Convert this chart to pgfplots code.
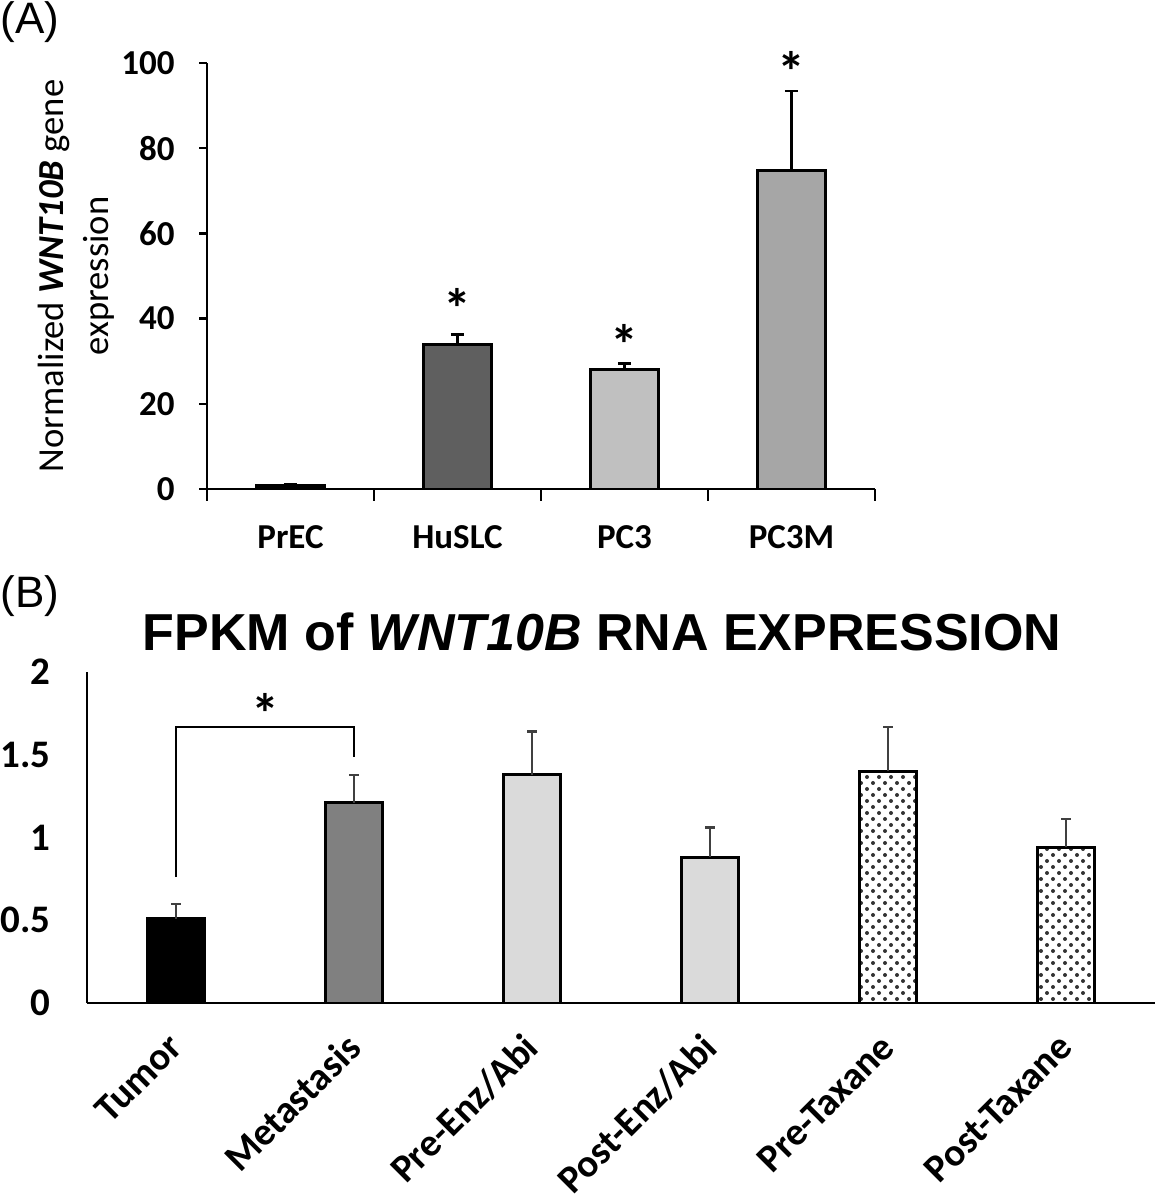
\documentclass[border=0pt]{standalone}
\usepackage{pgfplots}
\pgfplotsset{compat=1.18}
\usepackage{fontspec}
\setmainfont{Carlito}
\newfontfamily\arial{Liberation Sans}
\usetikzlibrary{patterns}
\definecolor{dgray}{HTML}{5F5F5F}
\definecolor{lgray}{HTML}{C0C0C0}
\definecolor{mgray}{HTML}{A6A6A6}
\definecolor{bgray}{HTML}{808080}
\definecolor{pgray}{HTML}{DADADA}
\pgfdeclarepatternformonly{mydots}{\pgfqpoint{-0.5pt}{-0.5pt}}{\pgfqpoint{6.5pt}{6.5pt}}{\pgfqpoint{6pt}{6pt}}{%
  \pgfpathcircle{\pgfqpoint{1.5pt}{1.5pt}}{1.0pt}%
  \pgfpathcircle{\pgfqpoint{4.5pt}{4.5pt}}{1.0pt}%
  \pgfusepath{fill}}
\begin{document}
\begin{tikzpicture}
\useasboundingbox (0pt,0pt) rectangle (578.5pt,600pt);
% panel labels
\node[anchor=west, inner sep=0pt] at (0pt,589pt) {\arial\fontsize{22}{26}\selectfont (A)};
\node[anchor=west, inner sep=0pt] at (0pt,302pt) {\arial\fontsize{22}{26}\selectfont (B)};
% ===== Panel A =====
\begin{axis}[
  at={(103.5pt,355.5pt)}, anchor=south west,
  width=334pt, height=213pt, scale only axis,
  xmin=-0.5, xmax=3.5, ymin=0, ymax=100,
  axis x line*=bottom, axis y line*=left,
  axis line style={line width=1.4pt, -},
  xtick={0,1,2,3}, xticklabels={PrEC,HuSLC,PC3,PC3M},
  minor xtick={-0.5,0.5,1.5,2.5,3.5},
  ytick={0,20,40,60,80,100}, yticklabels={0,20,40,60,80,100},
  tick align=outside, major tick length=4pt, minor tick length=6pt,
  major x tick style={draw=none},
  tick style={black, line width=1.2pt},
  ticklabel style={font=\bfseries\fontsize{17.5}{20}\selectfont},
  xticklabel style={anchor=north, inner sep=0pt, yshift=-14pt},
  yticklabel style={anchor=east, inner sep=0pt, xshift=-12pt},
  error bars/error bar style={black, line width=1.2pt},
  error bars/error mark options={black, line width=1.2pt, mark size=3.3pt, rotate=90},
  clip=false,
]
\addplot[ybar, bar width=34pt, bar shift=0pt, fill=black, draw=black, line width=1.4pt,
  error bars/.cd, y dir=plus, y explicit]
  coordinates {(0,0.9) +- (0,0.3)};
\addplot[ybar, bar width=34pt, bar shift=0pt, fill=dgray, draw=black, line width=1.4pt,
  error bars/.cd, y dir=plus, y explicit]
  coordinates {(1,34.0) +- (0,2.3)};
\addplot[ybar, bar width=34pt, bar shift=0pt, fill=lgray, draw=black, line width=1.4pt,
  error bars/.cd, y dir=plus, y explicit]
  coordinates {(2,28.1) +- (0,1.4)};
\addplot[ybar, bar width=34pt, bar shift=0pt, fill=mgray, draw=black, line width=1.4pt,
  error bars/.cd, y dir=plus, y explicit]
  coordinates {(3,74.8) +- (0,18.6)};
\node[font=\bfseries\fontsize{28}{28}\selectfont] at (axis cs:1,42.3) {*};
\node[font=\bfseries\fontsize{28}{28}\selectfont] at (axis cs:2,34.0) {*};
\node[font=\bfseries\fontsize{28}{28}\selectfont] at (axis cs:3,98) {*};
\end{axis}
\node[rotate=90, align=center, font=\fontsize{18.3}{22.5}\selectfont] at (38pt,462pt)
  {Normalized \textbf{\textit{WNT10B}} gene\\expression};
% ===== Panel B =====
\node at (301pt,284pt) {\arial\bfseries\fontsize{26}{30}\selectfont FPKM of \textit{WNT10B} RNA EXPRESSION};
\begin{axis}[
  at={(43.5pt,98.5pt)}, anchor=south west,
  width=534pt, height=165.5pt, scale only axis,
  xmin=-0.5, xmax=5.5, ymin=0, ymax=2,
  axis x line*=bottom, axis y line*=left,
  axis line style={line width=1.4pt, -},
  xtick={0,1,2,3,4,5},
  xticklabels={Tumor,Metastasis,Pre-Enz/Abi,Post-Enz/Abi,Pre-Taxane,Post-Taxane},
  ytick={0,0.5,1,1.5,2}, yticklabels={0,0.5,1,1.5,2},
  major tick length=0pt,
  ticklabel style={font=\bfseries\fontsize{19.5}{22}\selectfont},
  xticklabel style={font=\bfseries\fontsize{19.5}{22}\selectfont, xshift=0pt, yshift=-19pt, rotate=45, anchor=east, inner sep=0pt},
  yticklabel style={anchor=east, inner sep=0pt, xshift=-18pt},
  error bars/error bar style={black!75, line width=1.1pt},
  error bars/error mark options={black!75, line width=1.1pt, mark size=2.3pt, rotate=90},
  clip=false,
]
\addplot[ybar, bar width=28.5pt, bar shift=0pt, fill=black, draw=black, line width=1.4pt,
  error bars/.cd, y dir=plus, y explicit]
  coordinates {(0,0.51) +- (0,0.09)};
\addplot[ybar, bar width=28.5pt, bar shift=0pt, fill=bgray, draw=black, line width=1.4pt,
  error bars/.cd, y dir=plus, y explicit]
  coordinates {(1,1.21) +- (0,0.17)};
\addplot[ybar, bar width=28.5pt, bar shift=0pt, fill=pgray, draw=black, line width=1.4pt,
  error bars/.cd, y dir=plus, y explicit]
  coordinates {(2,1.38) +- (0,0.26) (3,0.88) +- (0,0.18)};
\addplot[ybar, bar width=28.5pt, bar shift=0pt, pattern=mydots, pattern color=black!80, draw=black, line width=1.4pt,
  error bars/.cd, y dir=plus, y explicit]
  coordinates {(4,1.40) +- (0,0.27) (5,0.94) +- (0,0.17)};
\addplot[black, line width=1.3pt, mark=none] coordinates {(0,0.76) (0,1.668) (1,1.668) (1,1.486)};
\node[font=\bfseries\fontsize{28}{28}\selectfont] at (axis cs:0.5,1.75) {*};
\end{axis}
\end{tikzpicture}
\end{document}
